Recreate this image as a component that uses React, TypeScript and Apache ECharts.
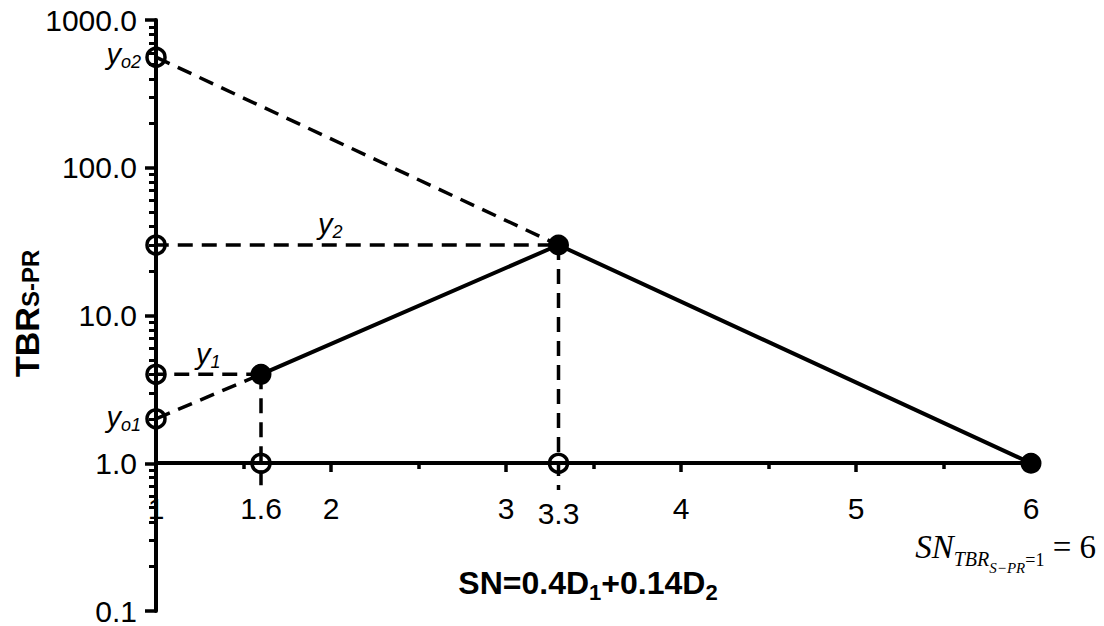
import React, { useEffect, useRef } from "react";
import * as echarts from "echarts";

// ---- data ----
const xLabelValues = [1, 1.6, 2, 3, 3.3, 4, 5, 6];
const xMajorTicks = [1, 2, 3, 4, 5, 6];
const xMinorTicks = [1.5, 2.5, 3.5, 4.5, 5.5];
const yLabelValues = [0.1, 1, 10, 100, 1000];
const yMinorTicks = [
  0.2, 0.3, 0.4, 0.5, 0.6, 0.7, 0.8, 0.9,
  2, 3, 4, 5, 6, 7, 8, 9,
  20, 30, 40, 50, 60, 70, 80, 90,
  200, 300, 400, 500, 600, 700, 800, 900,
];
const solidLine = [
  [1.6, 4],
  [3.3, 30],
  [6, 1],
];
const openPoints = [
  [1, 560],
  [1, 30],
  [1, 4],
  [1, 2],
  [1.6, 1],
  [3.3, 1],
];
const dashY1 = [[0.83, 4], [1.6, 4]];
const dashYo1 = [[1, 2], [1.6, 4]];
const dashV16 = [[1.6, 4], [1.6, 0.7]];
const dashY2 = [[0.85, 30], [3.3, 30]];
const dashYo2 = [[1, 560], [3.3, 30]];
const dashV33 = [[3.3, 30], [3.3, 0.66]];
const dashedLines = [dashY1, dashYo1, dashV16, dashY2, dashYo2, dashV33];

// ---- layout ----
const W = 1104;
const H = 626;
const GRID = { left: 156, right: 73, top: 20, bottom: 14 };
const SANS = '"Liberation Sans", Arial, Helvetica, sans-serif';
const SERIF = '"Liberation Serif", "Times New Roman", serif';

type Part = { t: string; size: number; bold?: boolean; italic?: boolean; serif?: boolean; dy?: number };

let measureCtx: CanvasRenderingContext2D | null = null;
function textWidth(t: string, font: string) {
  if (!measureCtx) measureCtx = document.createElement("canvas").getContext("2d");
  if (!measureCtx) return t.length * 10;
  measureCtx.font = font;
  return measureCtx.measureText(t).width;
}

function run(parts: Part[], x0: number, baseline: number, align: "left" | "center" | "right" = "left") {
  const fonts = parts.map(
    (p) => `${p.italic ? "italic " : ""}${p.bold ? "bold " : ""}${p.size}px ${p.serif ? SERIF : SANS}`
  );
  const widths = parts.map((p, i) => textWidth(p.t, fonts[i]));
  const total = widths.reduce((a, b) => a + b, 0);
  let x = align === "left" ? x0 : align === "center" ? x0 - total / 2 : x0 - total;
  return parts.map((p, i) => {
    const el = {
      type: "text",
      x,
      y: baseline + (p.dy || 0) - 0.35 * p.size,
      silent: true,
      style: {
        text: p.t,
        font: fonts[i],
        fill: "#000",
        align: "left",
        verticalAlign: "middle",
        textAlign: "left",
        textVerticalAlign: "middle",
      },
    };
    x += widths[i];
    return el;
  });
}

export default function App() {
  const ref = useRef<HTMLDivElement>(null);
  useEffect(() => {
    if (!ref.current) return;
    const chart = echarts.init(ref.current, null, { renderer: "svg", width: W, height: H });
    const gridH = H - GRID.top - GRID.bottom;
    const xOffset = -gridH * (Math.log10(1) - Math.log10(0.1)) / (Math.log10(1000) - Math.log10(0.1));

    const axisLine = { show: true, lineStyle: { color: "#000", width: 4 } };
    const labelStyle = { color: "#000", fontSize: 30, fontFamily: SANS };

    const graphics: any[] = [
      // y axis title (rotated)
      {
        type: "group",
        x: 39,
        y: 377,
        rotation: Math.PI / 2,
        children: run(
          [
            { t: "TBR", size: 34, bold: true },
            { t: "S-PR", size: 24, bold: true },
          ],
          0,
          0,
          "left"
        ),
      },
      // x axis title
      ...run(
        [
          { t: "SN=0.4D", size: 32, bold: true },
          { t: "1", size: 22, bold: true, dy: 6 },
          { t: "+0.14D", size: 32, bold: true },
          { t: "2", size: 22, bold: true, dy: 6 },
        ],
        588,
        594,
        "center"
      ),
      // formula bottom right
      ...run(
        [
          { t: "SN", size: 33, italic: true, serif: true },
          { t: "TBR", size: 20, italic: true, serif: true, dy: 7 },
          { t: "S\u2212PR", size: 15, italic: true, serif: true, dy: 14 },
          { t: "=1", size: 18, serif: true, dy: 7 },
          { t: " = 6", size: 33, serif: true },
        ],
        1096,
        559,
        "right"
      ),
      // annotations
      ...run(
        [
          { t: "y", size: 29, italic: true },
          { t: "o2", size: 18, italic: true, dy: 4 },
        ],
        141,
        64,
        "right"
      ),
      ...run(
        [
          { t: "y", size: 29, italic: true },
          { t: "o1", size: 18, italic: true, dy: 4 },
        ],
        141,
        427,
        "right"
      ),
      ...run(
        [
          { t: "y", size: 29, italic: true },
          { t: "1", size: 18, italic: true, dy: 4 },
        ],
        196,
        364,
        "left"
      ),
      ...run(
        [
          { t: "y", size: 29, italic: true },
          { t: "2", size: 18, italic: true, dy: 4 },
        ],
        318,
        234,
        "left"
      ),
    ];

    const option: any = {
      animation: false,
      backgroundColor: "#fff",
      grid: { ...GRID, containLabel: false },
      xAxis: [
        {
          type: "value",
          min: 1,
          max: 6,
          position: "bottom",
          offset: xOffset,
          axisLine,
          splitLine: { show: false },
          axisTick: { show: true, customValues: xMajorTicks, length: 9, lineStyle: { color: "#000", width: 3.5 } },
          axisLabel: {
            ...labelStyle,
            customValues: xLabelValues,
            margin: 30,
            formatter: (v: number) => {
              const s = String(Math.round(v * 10) / 10);
              return s === "3.3" ? "{d|3.3}" : s;
            },
            rich: { d: { ...labelStyle, padding: [5, 0, 0, 0] } },
          },
        },
        {
          type: "value",
          min: 1,
          max: 6,
          position: "bottom",
          offset: xOffset,
          axisLine: { show: false },
          splitLine: { show: false },
          axisLabel: { show: false },
          axisTick: { show: true, customValues: xMinorTicks, length: 6, lineStyle: { color: "#000", width: 3.5 } },
        },
      ],
      yAxis: [
        {
          type: "log",
          logBase: 10,
          min: 0.1,
          max: 1000,
          position: "left",
          axisLine,
          splitLine: { show: false },
          axisTick: { show: true, customValues: yLabelValues, length: 11, lineStyle: { color: "#000", width: 3.5 } },
          axisLabel: {
            ...labelStyle,
            customValues: yLabelValues,
            margin: 19,
            formatter: (v: number) => Number(v).toFixed(1),
          },
        },
        {
          type: "log",
          logBase: 10,
          min: 0.1,
          max: 1000,
          position: "left",
          axisLine: { show: false },
          splitLine: { show: false },
          axisLabel: { show: false },
          axisTick: { show: true, customValues: yMinorTicks, length: 7, lineStyle: { color: "#000", width: 3 } },
        },
      ],
      series: [
        ...dashedLines.map((d) => ({
          type: "line",
          data: d,
          symbol: "none",
          clip: false,
          silent: true,
          z: 2,
          lineStyle: { color: "#000", width: 3.5, type: [15, 9] },
        })),
        {
          type: "line",
          data: solidLine,
          symbol: "circle",
          symbolSize: 21,
          clip: false,
          z: 4,
          itemStyle: { color: "#000", opacity: 1 },
          lineStyle: { color: "#000", width: 4 },
        },
        {
          type: "scatter",
          data: openPoints,
          symbol: "circle",
          symbolSize: 18,
          clip: false,
          z: 5,
          itemStyle: { color: "rgba(255,255,255,0)", borderColor: "#000", borderWidth: 3.5, opacity: 1 },
        },
      ],
      graphic: graphics,
    };
    chart.setOption(option);
    return () => chart.dispose();
  }, []);
  return <div ref={ref} style={{ position: "fixed", left: 0, top: 0, width: W, height: H }} />;
}
